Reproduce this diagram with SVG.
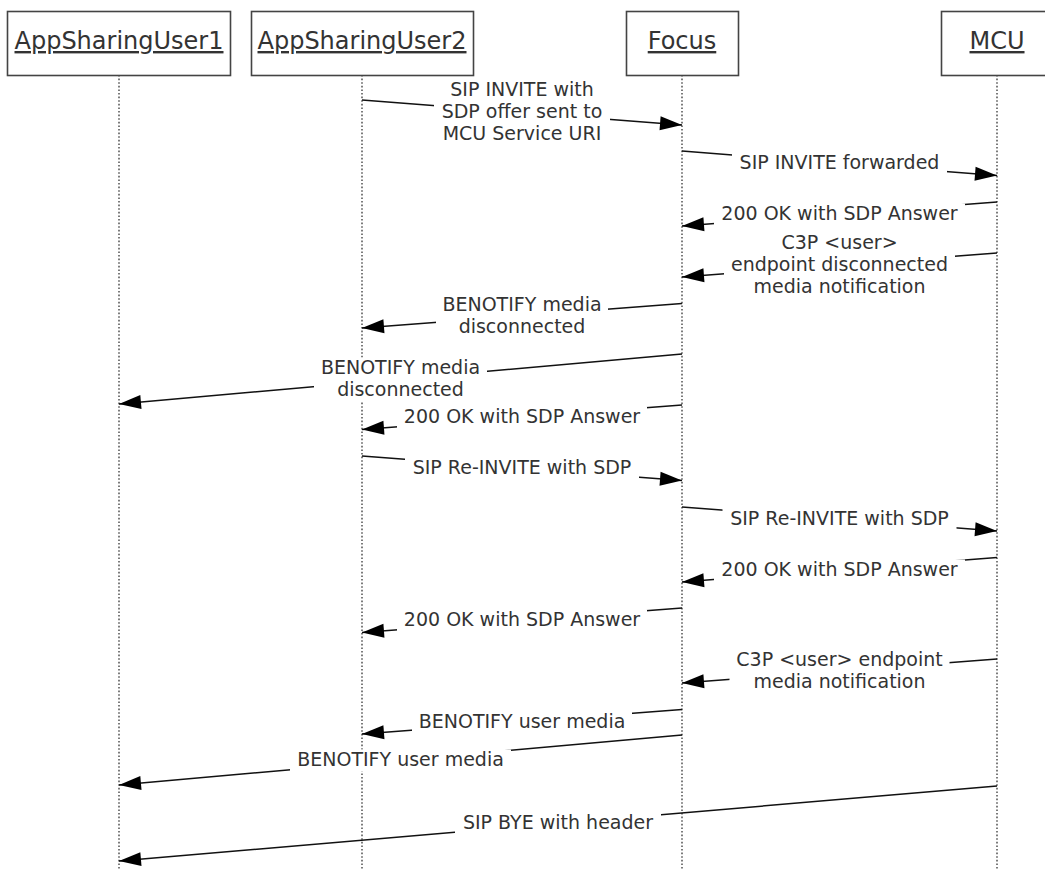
<svg xmlns="http://www.w3.org/2000/svg" width="1045" height="869" viewBox="0 0 1045 869">
<style>
.box{fill:#fff;stroke:#444;stroke-width:1.6}
.hdr{font-family:"DejaVu Sans","Liberation Sans",sans-serif;font-size:24px;fill:#333;text-anchor:middle;text-decoration:underline}
.life{stroke:#444;stroke-width:1.4;stroke-dasharray:1.6 2;fill:none}
.msg{stroke:#111;stroke-width:1.5;fill:none;marker-end:url(#ah)}
.lbg{fill:#fff}
.lbl{font-family:"DejaVu Sans","Liberation Sans",sans-serif;font-size:19px;fill:#333;text-anchor:middle}
</style>
<defs>
<marker id="ah" markerUnits="userSpaceOnUse" markerWidth="22" markerHeight="14" refX="22" refY="7" orient="auto" overflow="visible">
<path d="M0,0 L22,7 L0,14 z" fill="#000"/>
</marker>
</defs>
<rect width="1045" height="869" fill="#fff"/>
<g id="AppSharingUser1">
<line class="life" x1="119" y1="75" x2="119" y2="869"/>
<rect class="box" x="7.5" y="11.5" width="223" height="64"/>
<text class="hdr" x="119" y="49">AppSharingUser1</text>
</g>
<g id="AppSharingUser2">
<line class="life" x1="362" y1="75" x2="362" y2="869"/>
<rect class="box" x="251.5" y="11.5" width="222" height="64"/>
<text class="hdr" x="362" y="49">AppSharingUser2</text>
</g>
<g id="Focus">
<line class="life" x1="682" y1="75" x2="682" y2="869"/>
<rect class="box" x="626.5" y="11.5" width="112" height="64"/>
<text class="hdr" x="682" y="49">Focus</text>
</g>
<g id="MCU">
<line class="life" x1="997" y1="75" x2="997" y2="869"/>
<rect class="box" x="941.5" y="11.5" width="112" height="64"/>
<text class="hdr" x="997" y="49">MCU</text>
</g>
<g id="connectors">
<line class="msg" x1="362" y1="100" x2="682" y2="125"/>
<line class="msg" x1="682" y1="151" x2="997" y2="175.5"/>
<line class="msg" x1="997" y1="202" x2="682" y2="226"/>
<line class="msg" x1="997" y1="253" x2="682" y2="277"/>
<line class="msg" x1="682" y1="303.5" x2="362" y2="328"/>
<line class="msg" x1="682" y1="354" x2="119" y2="404"/>
<line class="msg" x1="682" y1="405" x2="362" y2="429.5"/>
<line class="msg" x1="362" y1="456" x2="682" y2="480.5"/>
<line class="msg" x1="682" y1="507" x2="997" y2="531"/>
<line class="msg" x1="997" y1="557.5" x2="682" y2="582"/>
<line class="msg" x1="682" y1="608" x2="362" y2="632.5"/>
<line class="msg" x1="997" y1="659" x2="682" y2="683"/>
<line class="msg" x1="682" y1="709.5" x2="362" y2="734"/>
<line class="msg" x1="682" y1="735" x2="119" y2="785"/>
<line class="msg" x1="997" y1="786" x2="119" y2="861"/>
</g>
<g id="labels">
<rect class="lbg" x="434" y="80" width="176" height="66"/>
<text class="lbl" x="522" y="96">SIP INVITE with</text>
<text class="lbl" x="522" y="118">SDP offer sent to</text>
<text class="lbl" x="522" y="140">MCU Service URI</text>

<rect class="lbg" x="732" y="152.5" width="215" height="22"/>
<text class="lbl" x="839.5" y="168.5">SIP INVITE forwarded</text>

<rect class="lbg" x="714" y="203.5" width="251" height="22"/>
<text class="lbl" x="839.5" y="219.5">200 OK with SDP Answer</text>

<rect class="lbg" x="724" y="232.5" width="231" height="66"/>
<text class="lbl" x="839.5" y="248.5">C3P &lt;user&gt;</text>
<text class="lbl" x="839.5" y="270.5">endpoint disconnected</text>
<text class="lbl" x="839.5" y="292.5">media notification</text>

<rect class="lbg" x="436" y="294.5" width="172" height="44"/>
<text class="lbl" x="522" y="310.5">BENOTIFY media</text>
<text class="lbl" x="522" y="332.5">disconnected</text>

<rect class="lbg" x="314" y="357.5" width="173" height="44"/>
<text class="lbl" x="400.5" y="373.5">BENOTIFY media</text>
<text class="lbl" x="400.5" y="395.5">disconnected</text>

<rect class="lbg" x="397" y="406.5" width="250" height="22"/>
<text class="lbl" x="522" y="422.5">200 OK with SDP Answer</text>

<rect class="lbg" x="405" y="457.5" width="234" height="22"/>
<text class="lbl" x="522" y="473.5">SIP Re-INVITE with SDP</text>

<rect class="lbg" x="722.5" y="508.5" width="234" height="22"/>
<text class="lbl" x="839.5" y="524.5">SIP Re-INVITE with SDP</text>

<rect class="lbg" x="714" y="559.5" width="251" height="22"/>
<text class="lbl" x="839.5" y="575.5">200 OK with SDP Answer</text>

<rect class="lbg" x="397" y="609.5" width="250" height="22"/>
<text class="lbl" x="522" y="625.5">200 OK with SDP Answer</text>

<rect class="lbg" x="729.5" y="649.5" width="220" height="44"/>
<text class="lbl" x="839.5" y="665.5">C3P &lt;user&gt; endpoint</text>
<text class="lbl" x="839.5" y="687.5">media notification</text>

<rect class="lbg" x="412" y="711.5" width="220" height="22"/>
<text class="lbl" x="522" y="727.5">BENOTIFY user media</text>

<rect class="lbg" x="290" y="749.5" width="221" height="22"/>
<text class="lbl" x="400.5" y="765.5">BENOTIFY user media</text>

<rect class="lbg" x="455" y="813" width="206" height="22"/>
<text class="lbl" x="558" y="829">SIP BYE with header</text>
</g>
</svg>
